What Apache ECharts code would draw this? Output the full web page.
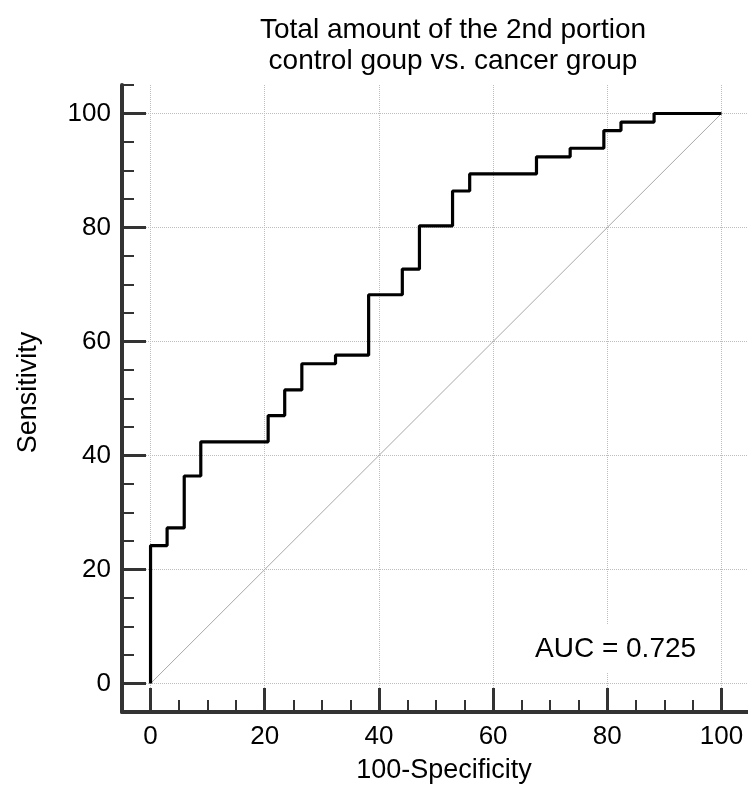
<!DOCTYPE html>
<html>
<head>
<meta charset="utf-8">
<script src="https://cdn.jsdelivr.net/npm/echarts@6/dist/echarts.min.js"></script>
<style>
  html, body { margin: 0; padding: 0; background: #fff; }
  #chart { width: 748px; height: 789px; }
</style>
</head>
<body>
<div id="chart"></div>
<script>
// ROC curve points (100-Specificity, Sensitivity)
var fpr = [0, 0, 2.9, 5.9, 8.8, 20.6, 23.5, 26.5, 32.4, 38.2, 44.1, 47.1, 52.9, 55.9, 67.6, 73.5, 79.4, 82.4, 88.2, 100];
var tpr = [0, 24.2, 27.3, 36.4, 42.4, 47.0, 51.5, 56.1, 57.6, 68.2, 72.7, 80.3, 86.4, 89.4, 92.4, 93.9, 97.0, 98.5, 100, 100];
// reference diagonal
var diagX = [0, 100];
var diagY = [0, 100];
// labelled ticks
var tickValues = [0, 20, 40, 60, 80, 100];

var rocData = [];
for (var i = 0; i < fpr.length; i++) {
    rocData.push([fpr[i], tpr[i]]);
}
var diagData = [];
for (var j = 0; j < diagX.length; j++) {
    diagData.push([diagX[j], diagY[j]]);
}

var FONT = 'Liberation Sans';
var AXIS_COLOR = '#333';

/* minor ticks every 5 + dotted grid every 20 (colour cycle: -5,0,5,10,...) */
function minorAxis(pos) {
    return {
        type: 'value',
        position: pos,
        min: -5,
        max: 105,
        interval: 5,
        axisLine: { show: true, onZero: false, lineStyle: { color: AXIS_COLOR, width: 4 } },
        axisTick: { show: true, inside: true, length: 12, lineStyle: { color: AXIS_COLOR, width: 2 } },
        axisLabel: { show: false },
        splitLine: {
            show: true,
            lineStyle: { color: ['rgba(0,0,0,0)', '#bdbdbd', 'rgba(0,0,0,0)', 'rgba(0,0,0,0)'], type: 'dotted', width: 1 }
        }
    };
}

/* major ticks and labels every 20 */
function majorAxis(pos, name, nameGap, rot, namePad) {
    return {
        type: 'value',
        position: pos,
        min: -5,
        max: 105,
        interval: 5,
        name: name,
        nameLocation: 'middle',
        nameGap: nameGap,
        nameRotate: rot,
        nameMoveOverlap: false,
        nameTextStyle: { fontFamily: FONT, fontSize: 27, color: '#000', padding: namePad },
        axisLine: { show: false, onZero: false },
        axisTick: { show: true, inside: true, length: 24, customValues: tickValues, lineStyle: { color: AXIS_COLOR, width: 3 } },
        axisLabel: {
            show: true,
            customValues: tickValues,
            margin: pos === 'left' ? 11 : 12,
            fontFamily: FONT,
            fontSize: 26,
            color: '#000',
            formatter: function (v) { return (v % 20 === 0 && v >= 0 && v <= 100) ? String(v) : ''; }
        },
        splitLine: { show: false }
    };
}

var myChart = echarts.init(document.getElementById('chart'));

var option = {
    animation: false,
    backgroundColor: '#fff',
    title: [{
        text: 'Total amount of the 2nd portion\ncontrol goup vs. cancer group',
        left: 448,
        top: 10,
        textAlign: 'center',
        textStyle: { fontFamily: FONT, fontSize: 28, fontWeight: 'normal', color: '#000', lineHeight: 31 }
    }, {
        text: 'AUC = 0.725',
        left: 529,
        top: 625,
        padding: [9, 6],
        backgroundColor: '#fff',
        textStyle: { fontFamily: FONT, fontSize: 28, fontWeight: 'normal', color: '#000', lineHeight: 30 }
    }],
    grid: {
        left: 122,
        top: 85,
        width: 628,
        height: 627,
        containLabel: false,
        outerBoundsMode: 'none'
    },
    xAxis: [
        minorAxis('bottom'),
        majorAxis('bottom', '100-Specificity', 45, 0, [0, 0, 0, 16])
    ],
    yAxis: [
        minorAxis('left'),
        majorAxis('left', 'Sensitivity', 80, 90, [0, 0, 0, 12])
    ],
    series: [{
        name: 'diagonal',
        type: 'line',
        xAxisIndex: 0,
        yAxisIndex: 0,
        data: diagData,
        symbol: 'none',
        silent: true,
        lineStyle: { color: '#a8a8a8', width: 1 }
    }, {
        name: 'ROC',
        type: 'line',
        xAxisIndex: 0,
        yAxisIndex: 0,
        data: rocData,
        step: 'end',
        symbol: 'none',
        silent: true,
        lineStyle: { color: '#000', width: 3.2 }
    }]
};

myChart.setOption(option);
</script>
</body>
</html>
